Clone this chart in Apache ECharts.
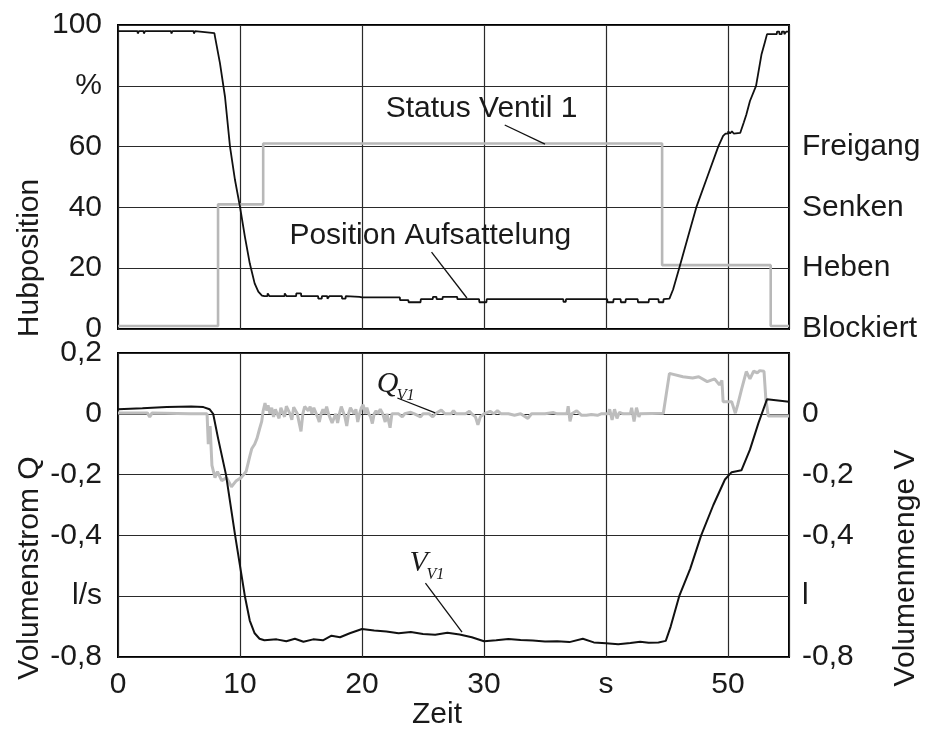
<!DOCTYPE html>
<html>
<head>
<meta charset="utf-8">
<script src="https://cdn.jsdelivr.net/npm/echarts/dist/echarts.min.js"></script>
<style>
  html, body { margin: 0; padding: 0; background: #fff; }
  #chart { width: 932px; height: 738px; }
</style>
</head>
<body>
<div id="chart"></div>
<script>
// ---- measured traces: [time s, value] ----
// Hubposition of the semitrailer coupling, %
const positionData = [
  [0,98],[1.6,98],[1.62,97.2],[1.7,97.2],[1.72,98],[2.1,98],[2.12,97.2],[2.2,97.2],[2.22,98],
  [4.35,98],[4.37,97.2],[4.45,97.2],[4.47,98],[6.2,98],[6.22,97.2],[6.3,97.2],[6.32,98],
  [6.45,98],[6.47,97.5],[7.9,97.3],[7.95,96.2],[8.36,87.4],[8.77,76.4],[9.18,60],[9.59,49],
  [10.0,40.2],[10.4,30.4],[10.8,21.6],[11.2,15],[11.5,12.3],[11.8,11.0],[12.0,10.8],
  [12.25,10.8],[12.27,11.7],[12.4,11.7],[12.42,10.8],[13.65,10.8],[13.67,11.7],[13.8,11.7],
  [13.82,10.8],[14.6,10.8],[14.62,11.7],[15.0,11.7],[15.02,10.8],[16.4,10.8],[16.42,10.0],
  [16.7,10.0],[16.72,10.8],[17.15,10.8],[17.17,10.0],[17.3,10.0],[17.32,10.8],[18.35,10.8],
  [18.37,10.0],[18.65,10.0],[18.67,10.8],[19.8,10.6],[20.0,10.4],[23.1,10.4],[23.12,9.5],
  [23.8,9.5],[23.82,8.8],[24.8,8.8],[24.82,9.8],[25.8,9.8],[25.82,10.6],[26.1,10.6],
  [26.12,9.8],[26.6,9.8],[26.62,10.6],[27.8,10.6],[27.82,9.8],[29.6,9.8],[29.62,8.8],
  [30.2,8.8],[30.22,9.8],[36.5,9.8],[36.52,8.9],[36.7,8.9],[36.72,9.8],[40.1,9.8],
  [40.12,8.8],[40.6,8.8],[40.62,9.8],[41.2,9.8],[41.22,8.8],[41.6,8.8],[41.62,9.8],
  [42.6,9.8],[42.62,8.8],[43.5,8.8],[43.52,9.8],[44.3,9.8],[44.32,8.8],[44.7,8.8],
  [44.72,9.8],[45.2,10],[45.5,13],[46.0,20],[46.7,30],[47.4,40],[48.3,50],[49.2,60],
  [49.6,63.5],[49.8,64.3],[50.0,64.3],[50.02,65],[50.15,65],[50.17,64.3],[50.3,64.3],
  [50.32,65],[50.45,65],[50.47,64.3],[51.0,64.5],[51.3,68],[51.5,70.5],[51.8,75],
  [52.3,80],[52.75,90.4],[53.0,94],[53.2,97],[54.0,97],[54.02,97.8],[54.2,97.8],
  [54.22,97],[54.4,97],[54.42,97.8],[54.6,97.8],[54.62,97],[54.75,97],[54.77,97.8],[55,97.8]
];

// valve 1 state, drawn on the same % scale (0 Blockiert, 20 Heben, 40 Senken, 60 Freigang)
const statusData = [[0,1],[8.2,41],[11.9,61],[44.6,21],[53.5,1],[55,1]];

// Volumenstrom Q_V1, l/s
const flowData = [
  [0,0.003],[2.4,0.003],[2.6,-0.01],[2.8,0.003],[5.9,0.0],[7.3,0.0],[7.4,-0.1],[7.55,-0.04],
  [7.7,-0.17],[7.95,-0.21],[8.15,-0.19],[8.5,-0.22],[8.9,-0.21],[9.3,-0.24],[9.7,-0.22],
  [10.1,-0.21],[10.5,-0.19],[10.8,-0.14],[10.96,-0.115],[11.2,-0.1],[11.4,-0.08],[11.6,-0.05],
  [11.78,-0.025],[11.9,0.01],[12.05,0.035],[12.2,0.01],[12.3,0.028],[12.45,0.0],[12.6,0.02],
  [12.75,-0.01],[12.9,0.015],[13.05,0.0],[13.2,-0.015],[13.35,0.02],[13.5,0.02],[13.65,-0.01],
  [13.8,0.025],[13.95,0.025],[14.1,0.0],[14.25,-0.02],[14.4,0.022],[14.55,0.022],[14.7,0.0],
  [14.85,-0.03],[15.0,-0.058],[15.15,0.0],[15.3,0.024],[15.45,0.024],[15.6,0.01],[15.75,0.024],
  [15.9,0.0],[16.05,0.02],[16.2,0.02],[16.35,-0.01],[16.5,-0.027],[16.65,0.0],[16.8,0.015],
  [16.95,0.0],[17.1,0.024],[17.25,0.0],[17.4,-0.015],[17.55,-0.03],[17.7,-0.03],[17.85,0.0],
  [18.0,-0.03],[18.15,0.0],[18.3,0.024],[18.45,0.024],[18.6,-0.01],[18.75,-0.04],[18.9,0.0],
  [19.05,0.02],[19.2,0.024],[19.35,0.0],[19.5,0.015],[19.65,-0.027],[19.8,0.0],[19.95,0.02],
  [20.1,0.03],[20.25,0.0],[20.4,0.02],[20.55,0.0],[20.7,-0.01],[20.85,-0.032],[21.0,0.0],
  [21.15,0.01],[21.3,0.0],[21.5,0.015],[21.7,0.0],[21.9,-0.027],[22.05,0.0],[22.3,-0.046],
  [22.45,0.0],[22.6,0.005],[23.0,0.0],[23.3,-0.01],[23.5,0.0],[24.0,0.005],[24.3,0.0],
  [24.8,-0.01],[25.0,0.0],[25.5,0.0],[25.8,-0.01],[26.0,0.0],[26.5,0.012],[26.8,0.0],
  [27.3,0.0],[27.5,0.01],[27.7,0.0],[28.5,0.0],[28.8,0.008],[29.0,0.0],[29.3,-0.01],
  [29.5,-0.036],[29.7,-0.01],[30.0,0.0],[30.5,0.008],[30.8,0.0],[31.1,0.01],[31.4,0.0],
  [32.0,0.0],[32.5,-0.005],[33.0,0.0],[33.6,-0.015],[33.9,0.0],[35.0,0.0],[35.7,0.004],
  [36.0,0.0],[36.8,0.0],[36.9,0.025],[37.05,-0.025],[37.2,0.0],[37.6,0.01],[38.0,-0.005],
  [38.4,-0.005],[38.8,-0.002],[39.3,-0.005],[39.6,0.0],[40.2,0.0],[40.3,0.015],[40.5,-0.02],
  [40.7,0.015],[40.9,-0.015],[41.1,0.005],[41.4,0.0],[42.0,0.0],[42.1,0.02],[42.3,-0.025],
  [42.5,0.02],[42.7,-0.01],[42.8,0.0],[44.7,0.002],[45.2,0.133],[46.3,0.122],[47.1,0.118],
  [47.6,0.122],[48.3,0.106],[48.9,0.115],[49.3,0.095],[49.5,0.11],[49.6,0.04],[50.3,0.04],
  [50.6,0.002],[50.8,0.03],[51.1,0.079],[51.5,0.139],[51.8,0.115],[52.1,0.14],[52.4,0.135],
  [52.6,0.142],[52.95,0.14],[53.1,0.05],[53.3,-0.007],[55,-0.007]
];

// Volumenmenge V_V1, l
const volumeData = [
  [0,0.015],[2,0.018],[4,0.022],[6,0.024],[7,0.022],[7.5,0.015],[7.8,0.0],[8.2,-0.08],
  [8.85,-0.2],[9.6,-0.4],[10.4,-0.6],[10.8,-0.68],[11.2,-0.722],[11.6,-0.74],[12,-0.745],
  [13,-0.742],[13.8,-0.748],[14.5,-0.74],[15.2,-0.75],[16,-0.742],[16.8,-0.745],[17.5,-0.73],
  [18.2,-0.735],[19,-0.722],[20,-0.708],[21,-0.713],[22,-0.716],[23,-0.722],[24,-0.718],
  [25,-0.724],[26,-0.727],[27,-0.72],[28,-0.726],[29,-0.735],[30,-0.748],[31,-0.745],
  [32,-0.741],[33,-0.744],[34,-0.746],[35,-0.749],[36,-0.748],[37,-0.751],[38.1,-0.74],
  [39,-0.752],[40,-0.755],[41,-0.758],[42,-0.754],[42.8,-0.75],[43.5,-0.753],[44.3,-0.752],
  [44.9,-0.747],[45.3,-0.7],[46.0,-0.6],[46.9,-0.51],[47.8,-0.4],[48.8,-0.3],[49.75,-0.216],
  [50.3,-0.192],[51.1,-0.186],[51.8,-0.118],[52.5,-0.03],[53.2,0.048],[55,0.04]
];

// ---- tick labels ----
const timeTickLabels = { 0: '0', 10: '10', 20: '20', 30: '30', 40: 's', 50: '50' };
const hubTickLabels = { 0: '0', 20: '20', 40: '40', 60: '60', 80: '%', 100: '100' };
const statusTickLabels = { 0: 'Blockiert', 20: 'Heben', 40: 'Senken', 60: 'Freigang' };
const flowTickLabels = { '0.2': '0,2', '0': '0', '-0.2': '-0,2', '-0.4': '-0,4', '-0.6': 'l/s', '-0.8': '-0,8' };
const volumeTickLabels = { '0': '0', '-0.2': '-0,2', '-0.4': '-0,4', '-0.6': 'l', '-0.8': '-0,8' };

// ---- drawing ----
const FONT = 'Liberation Sans, Arial, Helvetica, sans-serif';
const SERIF = 'Liberation Serif, Times New Roman, serif';
const FS = 30;
const INK = '#1a1a1a';
const GRAY_STATUS = '#b8b8b8';
const GRAY_FLOW = '#bdbdbd';

const key = v => String(Math.round(v * 10) / 10);
const pick = table => v => (table[key(v)] !== undefined ? table[key(v)] : '');

const labelStyle = { fontFamily: FONT, fontSize: FS, color: INK };
const gridLine = { show: true, lineStyle: { color: '#2a2a2a', width: 1.2 } };

function timeAxis(gridIndex, showLabels) {
  return {
    type: 'value', gridIndex, min: 0, max: 55, interval: 10,
    axisLine: { show: false }, axisTick: { show: false },
    splitLine: gridLine,
    axisLabel: Object.assign({ show: showLabels, margin: 13, formatter: v => timeTickLabels[v] || '' }, labelStyle)
  };
}

function valueAxis(gridIndex, position, min, max, interval, formatter, margin, split) {
  return {
    type: 'value', gridIndex, position, min, max, interval,
    axisLine: { show: false }, axisTick: { show: false },
    splitLine: split ? gridLine : { show: false },
    axisLabel: Object.assign({ margin, formatter, showMinLabel: true, showMaxLabel: true }, labelStyle)
  };
}

const chart = echarts.init(document.getElementById('chart'), null, { renderer: 'canvas' });

const option = {
  animation: false,
  backgroundColor: '#fff',
  grid: [
    { left: 118, top: 25, width: 671, height: 304, show: true, borderColor: '#000', borderWidth: 2, backgroundColor: 'transparent', outerBoundsMode: 'none' },
    { left: 118, top: 353, width: 671, height: 304, show: true, borderColor: '#000', borderWidth: 2, backgroundColor: 'transparent', outerBoundsMode: 'none' }
  ],
  xAxis: [timeAxis(0, false), timeAxis(1, true)],
  yAxis: [
    valueAxis(0, 'left', 0, 100, 20, v => hubTickLabels[v] || '', 16, true),
    valueAxis(0, 'right', 0, 100, 20, v => statusTickLabels[v] || '', 13, false),
    valueAxis(1, 'left', -0.8, 0.2, 0.2, pick(flowTickLabels), 16, true),
    valueAxis(1, 'right', -0.8, 0.2, 0.2, pick(volumeTickLabels), 13, false)
  ],
  series: [
    { name: 'Status Ventil 1', type: 'line', xAxisIndex: 0, yAxisIndex: 1, step: 'end', data: statusData,
      showSymbol: false, lineStyle: { color: GRAY_STATUS, width: 2.6 }, z: 2 },
    { name: 'Position Aufsattelung', type: 'line', xAxisIndex: 0, yAxisIndex: 0, data: positionData,
      showSymbol: false, lineStyle: { color: '#111', width: 1.8 }, z: 3 },
    { name: 'Q_V1', type: 'line', xAxisIndex: 1, yAxisIndex: 2, data: flowData,
      showSymbol: false, lineStyle: { color: GRAY_FLOW, width: 3 }, z: 2 },
    { name: 'V_V1', type: 'line', xAxisIndex: 1, yAxisIndex: 3, data: volumeData,
      showSymbol: false, lineStyle: { color: '#111', width: 2 }, z: 3 }
  ]
};
chart.setOption(option);

// ---- annotations, anchored in data coordinates ----
const topPx = p => chart.convertToPixel({ xAxisIndex: 0, yAxisIndex: 0 }, p);
const botPx = p => chart.convertToPixel({ xAxisIndex: 1, yAxisIndex: 2 }, p);

function leader(a, b) {
  return { type: 'line', silent: true, z: 10,
    shape: { x1: a[0], y1: a[1], x2: b[0], y2: b[1] },
    style: { stroke: '#111', lineWidth: 1.3 } };
}
function plainText(str, at, align, vAlign, rotation, font) {
  return { type: 'text', silent: true, z: 10, x: at[0], y: at[1], rotation: rotation || 0,
    style: { text: str, font: font || (FS + 'px ' + FONT), fill: INK, align: align || 'center', verticalAlign: vAlign || 'middle' } };
}
function subscripted(main, sub, at) {
  // italic symbol with a smaller italic subscript, baseline anchored at `at`
  return [
    { type: 'text', silent: true, z: 10, x: at[0], y: at[1],
      style: { text: main, font: 'italic 30px ' + SERIF, fill: INK, align: 'left', verticalAlign: 'bottom' } },
    { type: 'text', silent: true, z: 10, x: at[0] + (main === 'Q' ? 20 : 17), y: at[1] + 5,
      style: { text: sub, font: 'italic 16px ' + SERIF, fill: INK, align: 'left', verticalAlign: 'bottom' } }
  ];
}

const graphics = [
  plainText('Status Ventil 1', topPx([29.8, 72.4])),
  leader(topPx([31.7, 67.1]), topPx([35.0, 60.8])),
  plainText('Position Aufsattelung', topPx([25.6, 30.8])),
  leader(topPx([25.7, 25.3]), topPx([28.6, 10.2])),
  ...subscripted('Q', 'V1', botPx([21.2, 0.048])),
  leader(botPx([22.9, 0.052]), botPx([26.0, 0.003])),
  ...subscripted('V', 'V1', botPx([23.9, -0.54])),
  leader(botPx([25.2, -0.557]), botPx([28.2, -0.718])),
  // axis titles
  plainText('Hubposition', [30, 258], 'center', 'middle', Math.PI / 2),
  plainText('Volumenstrom Q', [30, 568], 'center', 'middle', Math.PI / 2),
  plainText('Volumenmenge V', [906, 568], 'center', 'middle', Math.PI / 2),
  plainText('Zeit', [437, 715])
];
chart.setOption({ graphic: graphics });
</script>
</body>
</html>
